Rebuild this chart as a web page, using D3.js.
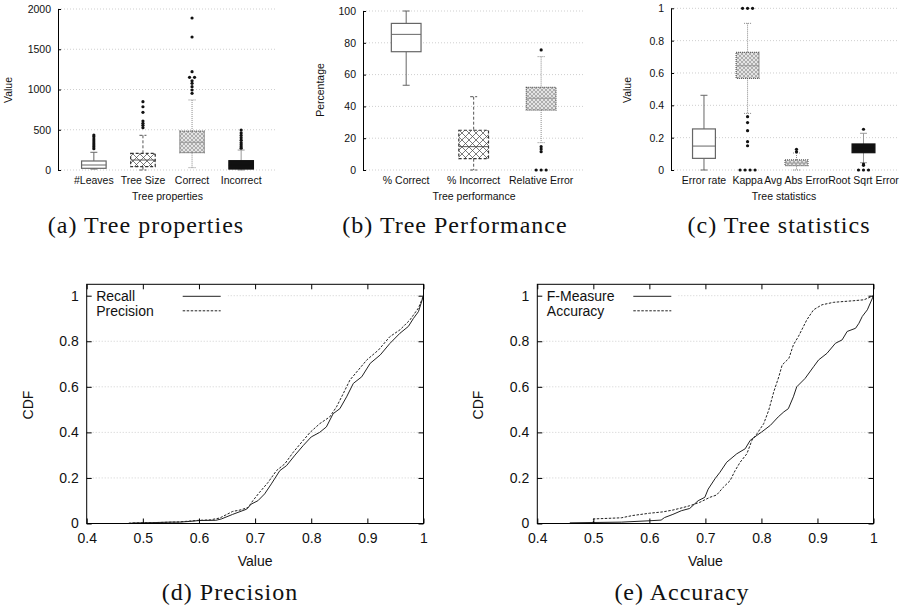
<!DOCTYPE html>
<html>
<head>
<meta charset="utf-8">
<script src="https://cdn.jsdelivr.net/npm/d3@7"></script>
<style>
  body { margin: 0; background: #fff; }
  text { font-family: "Liberation Sans", Arial, sans-serif; fill: #111; }
  .caption { font-family: "Liberation Serif", "Times New Roman", serif; font-size: 24px; letter-spacing: 1px; }
</style>
</head>
<body>
<div id="chart"></div>
<script>
// ---- data ----
// box rows: [lower whisker, q1, median, q3, upper whisker]
const propCats = ["#Leaves", "Tree Size", "Correct", "Incorrect"];
const propBoxes = [[12, 21, 62, 112, 220], [0, 41, 124, 207, 431], [29, 215, 344, 484, 870], [0, 12, 60, 116, 248]];
const propOutliers = [
  [265, 289, 311, 335, 360, 385, 414, 435],
  [526, 555, 580, 609, 716, 786, 849],
  [953, 994, 1035, 1077, 1109, 1151, 1151, 1221, 1652, 1888],
  [270, 290, 315, 340, 370, 400, 430, 460, 497]
];
const propTicks = [0, 500, 1000, 1500, 2000];

const perfCats = ["% Correct", "% Incorrect", "Relative Error"];
const perfBoxes = [[53.3, 74.4, 85.3, 92.2, 100], [0, 7.1, 14.7, 25, 46.1], [17.2, 37.7, 45.1, 52, 71.3]];
const perfOutliers = [[], [], [0, 0, 0, 11.5, 13.2, 14.7, 75.5]];
const perfTicks = [0, 20, 40, 60, 80, 100];

const statCats = ["Error rate", "Kappa", "Avg Abs Error", "Root Sqrt Error"];
const statX = [1, 1.82, 2.74, 4];
const statBoxes = [[0, 0.072, 0.148, 0.254, 0.462], [0.35, 0.567, 0.645, 0.728, 0.907], [0, 0.027, 0.043, 0.062, 0.105], [0.045, 0.107, 0.134, 0.161, 0.227]];
const statOutliers = [
  [],
  [0, 0, 0, 0, 0.15, 0.175, 0.243, 0.293, 0.33, 1, 1, 1],
  [0.113, 0.128],
  [0, 0, 0, 0.029, 0.037, 0.252]
];
const statTicks = [0, 0.2, 0.4, 0.6, 0.8, 1];

const cdfXTicks = [0.4, 0.5, 0.6, 0.7, 0.8, 0.9, 1];
const cdfYTicks = [0, 0.2, 0.4, 0.6, 0.8, 1];

const recall = [[0.48,0.002],[0.52,0.004],[0.55,0.006],[0.565,0.006],[0.583,0.009],[0.6,0.013],[0.63,0.014],[0.64,0.02],[0.66,0.04],[0.685,0.063],[0.693,0.085],[0.705,0.1],[0.717,0.13],[0.729,0.174],[0.744,0.232],[0.756,0.254],[0.771,0.3],[0.786,0.343],[0.8,0.38],[0.815,0.4],[0.827,0.424],[0.839,0.482],[0.851,0.504],[0.863,0.556],[0.875,0.615],[0.89,0.644],[0.905,0.703],[0.923,0.74],[0.94,0.79],[0.958,0.835],[0.973,0.865],[0.982,0.9],[0.991,0.93],[1.0,1.0]];
const precision = [[0.475,0.002],[0.52,0.004],[0.565,0.007],[0.6,0.014],[0.62,0.016],[0.637,0.024],[0.66,0.053],[0.673,0.059],[0.6875,0.07],[0.696,0.1],[0.708,0.137],[0.723,0.18],[0.738,0.232],[0.753,0.262],[0.768,0.313],[0.783,0.357],[0.798,0.4],[0.815,0.438],[0.833,0.468],[0.845,0.512],[0.857,0.57],[0.869,0.63],[0.884,0.674],[0.899,0.718],[0.92,0.762],[0.94,0.82],[0.958,0.85],[0.976,0.894],[0.991,0.946],[1.0,1.0]];
const fMeasure = [[0.458,0.003],[0.55,0.006],[0.6,0.012],[0.621,0.015],[0.627,0.026],[0.642,0.04],[0.657,0.056],[0.672,0.066],[0.687,0.1],[0.699,0.115],[0.705,0.151],[0.717,0.196],[0.726,0.225],[0.738,0.269],[0.756,0.306],[0.771,0.328],[0.78,0.365],[0.792,0.387],[0.8,0.401],[0.816,0.431],[0.83,0.468],[0.84,0.49],[0.848,0.504],[0.857,0.556],[0.863,0.6],[0.878,0.637],[0.893,0.688],[0.902,0.718],[0.917,0.747],[0.932,0.791],[0.944,0.806],[0.953,0.843],[0.968,0.857],[0.974,0.879],[0.98,0.909],[0.989,0.938],[1.0,1.0]];
const accuracy = [[0.5,0],[0.5,0.02],[0.55,0.025],[0.57,0.035],[0.6,0.045],[0.624,0.051],[0.642,0.059],[0.66,0.07],[0.672,0.078],[0.69,0.093],[0.708,0.115],[0.72,0.125],[0.732,0.159],[0.744,0.188],[0.753,0.232],[0.762,0.269],[0.774,0.306],[0.783,0.365],[0.792,0.394],[0.804,0.438],[0.813,0.497],[0.822,0.578],[0.831,0.644],[0.837,0.696],[0.849,0.725],[0.857,0.784],[0.866,0.821],[0.881,0.894],[0.893,0.938],[0.908,0.96],[0.929,0.971],[0.965,0.978],[0.983,0.982],[1.0,1.0]];

// ---- drawing ----
let width = 901, height = 610;
let fontStack = "Liberation Sans, Arial, sans-serif";
let smallFont = 10.5;

let svg = d3.select("#chart").append("svg")
    .attr("width", width)
    .attr("height", height);

svg.append("rect").attr("width", width).attr("height", height).attr("fill", "#fff");

// fill patterns for the boxes
let defs = svg.append("defs");
defs.append("pattern").attr("id", "pBig")
    .attr("patternUnits", "userSpaceOnUse").attr("width", 7).attr("height", 7)
  .append("path").attr("d", "M0,0L7,7M7,0L0,7M-1,6L1,8M6,-1L8,1")
    .attr("stroke", "#444").attr("stroke-width", 0.7).attr("fill", "none");
let dense = defs.append("pattern").attr("id", "pDense")
    .attr("patternUnits", "userSpaceOnUse").attr("width", 4).attr("height", 4);
dense.append("rect").attr("width", 4).attr("height", 4).attr("fill", "#e4e4e4");
dense.append("path").attr("d", "M0,0L4,4M4,0L0,4")
    .attr("stroke", "#8a8a8a").attr("stroke-width", 0.6).attr("fill", "none");

let boxStyles = {
  white: {fill: "#fff", stroke: "#666", dash: null, whisker: "#666", median: "#666"},
  big: {fill: "url(#pBig)", stroke: "#333", dash: "3,2", whisker: "#555", median: "#555"},
  dense: {fill: "url(#pDense)", stroke: "#555", dash: "1,1", whisker: "#888", median: "#999"},
  black: {fill: "#111", stroke: "#111", dash: null, whisker: "#999", median: "#111"}
};

function boxPanel(cfg) {
  let g = svg.append("g");
  let x = d3.scaleLinear().domain(cfg.xDomain).range([cfg.left, cfg.right]);
  let y = d3.scaleLinear().domain(cfg.yDomain).range([cfg.bottom, cfg.top]);

  g.selectAll(".grid").data(cfg.yTicks).join("line")
      .attr("x1", cfg.left).attr("x2", cfg.right)
      .attr("y1", d => y(d)).attr("y2", d => y(d))
      .attr("stroke", "#cfcfcf").attr("stroke-dasharray", "1,2");

  let ax = g.append("g")
      .attr("transform", "translate(" + cfg.left + ",0)")
      .call(d3.axisLeft(y).tickValues(cfg.yTicks).tickSizeInner(-3).tickSizeOuter(0)
        .tickPadding(7).tickFormat(d3.format("~g")));
  ax.attr("font-family", fontStack).attr("font-size", smallFont);
  ax.select(".domain").attr("stroke", "#000");

  let bw = x(cfg.boxW) - x(0);
  let cap = 7;

  cfg.boxes.forEach((b, i) => {
    let st = boxStyles[cfg.kinds[i]];
    let cx = x(cfg.xPos[i]);
    let [lo, q1, med, q3, hi] = b;
    let wg = g.append("g").attr("stroke", st.whisker).attr("stroke-dasharray", st.dash);
    wg.append("line").attr("x1", cx).attr("x2", cx).attr("y1", y(hi)).attr("y2", y(q3));
    wg.append("line").attr("x1", cx).attr("x2", cx).attr("y1", y(q1)).attr("y2", y(lo));
    wg.append("line").attr("x1", cx - cap / 2).attr("x2", cx + cap / 2).attr("y1", y(hi)).attr("y2", y(hi));
    wg.append("line").attr("x1", cx - cap / 2).attr("x2", cx + cap / 2).attr("y1", y(lo)).attr("y2", y(lo));

    g.append("rect")
        .attr("x", cx - bw / 2).attr("width", bw)
        .attr("y", y(q3)).attr("height", y(q1) - y(q3))
        .attr("fill", st.fill).attr("stroke", st.stroke)
        .attr("stroke-width", 1.2).attr("stroke-dasharray", st.dash);
    g.append("line")
        .attr("x1", cx - bw / 2).attr("x2", cx + bw / 2)
        .attr("y1", y(med)).attr("y2", y(med))
        .attr("stroke", st.median);

    // identical outliers are spread side by side
    let counts = d3.rollup(cfg.outliers[i], v => v.length, d => d);
    counts.forEach((n, v) => {
      d3.range(n).forEach(k => {
        g.append("circle")
            .attr("cx", cx + (k - (n - 1) / 2) * 5)
            .attr("cy", y(v))
            .attr("r", 1.6)
            .attr("fill", "#111");
      });
    });
  });

  g.selectAll(".cat").data(cfg.cats).join("text")
      .attr("x", (d, i) => x(cfg.xPos[i]))
      .attr("y", 184)
      .attr("text-anchor", "middle")
      .attr("font-size", smallFont)
      .text(d => d);

  g.append("text")
      .attr("x", (cfg.left + cfg.right) / 2).attr("y", 200)
      .attr("text-anchor", "middle").attr("font-size", smallFont)
      .text(cfg.xTitle);

  g.append("text")
      .attr("transform", "translate(" + cfg.yTitleX + ",90) rotate(-90)")
      .attr("text-anchor", "middle").attr("font-size", smallFont)
      .text(cfg.yTitle);
}

boxPanel({
  left: 58, right: 277, top: 9, bottom: 170,
  xDomain: [0.27, 4.73], yDomain: [0, 2000], yTicks: propTicks,
  xPos: [1, 2, 3, 4], boxW: 0.5, cats: propCats,
  boxes: propBoxes, outliers: propOutliers,
  kinds: ["white", "big", "dense", "black"],
  xTitle: "Tree properties", yTitle: "Value", yTitleX: 12
});

boxPanel({
  left: 363, right: 585, top: 11, bottom: 170,
  xDomain: [0.36, 3.65], yDomain: [0, 100], yTicks: perfTicks,
  xPos: [1, 2, 3], boxW: 0.44, cats: perfCats,
  boxes: perfBoxes, outliers: perfOutliers,
  kinds: ["white", "big", "dense"],
  xTitle: "Tree performance", yTitle: "Percentage", yTitleX: 324
});

boxPanel({
  left: 671, right: 897, top: 8.3, bottom: 170,
  xDomain: [0.38, 4.63], yDomain: [0, 1], yTicks: statTicks,
  xPos: statX, boxW: 0.43, cats: statCats,
  boxes: statBoxes, outliers: statOutliers,
  kinds: ["white", "dense", "dense", "black"],
  xTitle: "Tree statistics", yTitle: "Value", yTitleX: 631
});

function cdfPanel(cfg) {
  let g = svg.append("g");
  let x = d3.scaleLinear().domain([0.4, 1]).range([cfg.left, cfg.right]);
  let y = d3.scaleLinear().domain([0, 1.05]).range([cfg.bottom, cfg.top]);

  g.selectAll(".grid").data(cdfYTicks.filter(d => d > 0)).join("line")
      .attr("x1", cfg.left).attr("x2", cfg.right)
      .attr("y1", d => y(d)).attr("y2", d => y(d))
      .attr("stroke", "#cfcfcf").attr("stroke-dasharray", "1,2");

  // legend sits on an opaque box over the grid
  g.append("rect")
      .attr("x", cfg.left + 1).attr("y", cfg.top + 1)
      .attr("width", cfg.legendW).attr("height", 33)
      .attr("fill", "#fff");

  let line = d3.line().x(d => x(d[0])).y(d => y(d[1]));
  cfg.series.forEach((s, i) => {
    g.append("path").datum(s.pts)
        .attr("d", line)
        .attr("fill", "none").attr("stroke", "#222").attr("stroke-width", 1)
        .attr("stroke-dasharray", s.dash);
    let ly = cfg.top + 12 + i * 14.5;
    g.append("text")
        .attr("x", cfg.left + 9.5).attr("y", ly + 5)
        .attr("font-size", 14)
        .text(s.name);
    g.append("line")
        .attr("x1", cfg.left + cfg.sampleX).attr("x2", cfg.left + cfg.sampleX + 38)
        .attr("y1", ly).attr("y2", ly)
        .attr("stroke", "#222").attr("stroke-dasharray", s.dash);
  });

  let tick = 5;
  let bx = g.append("g").attr("transform", "translate(0," + cfg.bottom + ")")
      .call(d3.axisBottom(x).tickValues(cdfXTicks).tickSizeInner(-tick).tickSizeOuter(0)
        .tickPadding(10).tickFormat(d3.format("~g")));
  let tx = g.append("g").attr("transform", "translate(0," + cfg.top + ")")
      .call(d3.axisTop(x).tickValues(cdfXTicks).tickSizeInner(-tick).tickSizeOuter(0).tickFormat(""));
  let ly = g.append("g").attr("transform", "translate(" + cfg.left + ",0)")
      .call(d3.axisLeft(y).tickValues(cdfYTicks).tickSizeInner(-tick).tickSizeOuter(0)
        .tickPadding(8).tickFormat(d3.format("~g")));
  let ry = g.append("g").attr("transform", "translate(" + cfg.right + ",0)")
      .call(d3.axisRight(y).tickValues(cdfYTicks).tickSizeInner(-tick).tickSizeOuter(0).tickFormat(""));
  [bx, tx, ly, ry].forEach(a => {
    a.attr("font-family", fontStack).attr("font-size", 14);
    a.select(".domain").remove();
  });

  g.append("rect")
      .attr("x", cfg.left).attr("y", cfg.top)
      .attr("width", cfg.right - cfg.left).attr("height", cfg.bottom - cfg.top)
      .attr("fill", "none").attr("stroke", "#000");

  g.append("text")
      .attr("x", (cfg.left + cfg.right) / 2).attr("y", 566)
      .attr("text-anchor", "middle").attr("font-size", 14)
      .text("Value");
  g.append("text")
      .attr("transform", "translate(" + cfg.yTitleX + "," + 405 + ") rotate(-90)")
      .attr("text-anchor", "middle").attr("font-size", 14)
      .text("CDF");
}

cdfPanel({
  left: 86.7, right: 423.5, top: 284.3, bottom: 523.5,
  legendW: 140, sampleX: 96, yTitleX: 33,
  series: [
    {name: "Recall", pts: recall, dash: null},
    {name: "Precision", pts: precision, dash: "2.5,1.5"}
  ]
});

cdfPanel({
  left: 537.3, right: 873.5, top: 284.3, bottom: 523.5,
  legendW: 140, sampleX: 96, yTitleX: 483,
  series: [
    {name: "F-Measure", pts: fMeasure, dash: null},
    {name: "Accuracy", pts: accuracy, dash: "2.5,1.5"}
  ]
});

// sub-figure captions
let captions = [
  {text: "(a) Tree properties", x: 146, y: 233},
  {text: "(b) Tree Performance", x: 455, y: 233},
  {text: "(c) Tree statistics", x: 779, y: 233},
  {text: "(d) Precision", x: 230, y: 600},
  {text: "(e) Accuracy", x: 682, y: 600}
];
svg.selectAll(".caption").data(captions).join("text")
    .attr("class", "caption")
    .attr("x", d => d.x).attr("y", d => d.y)
    .attr("text-anchor", "middle")
    .text(d => d.text);
</script>
</body>
</html>
